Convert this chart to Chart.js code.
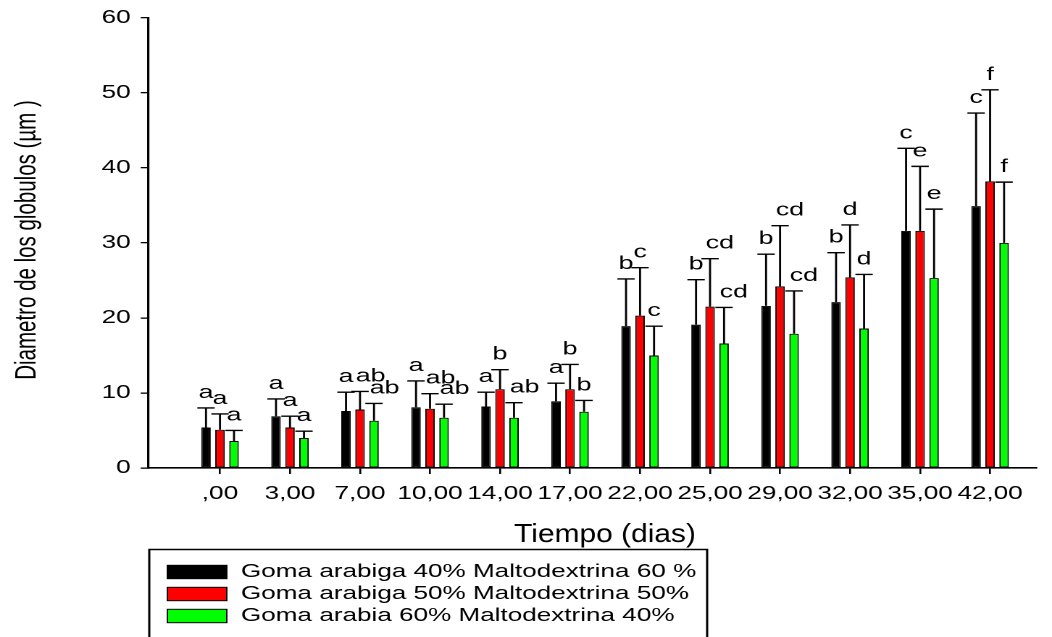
<!DOCTYPE html>
<html>
<head>
<meta charset="utf-8">
<script src="https://cdn.jsdelivr.net/npm/chart.js@4/dist/chart.umd.min.js"></script>
<style>
  html, body { margin: 0; padding: 0; background: #fff; overflow: hidden; }
  /* the original figure is stretched sideways, so draw narrow and widen it */
  #chart { display: block; transform: scaleX(1.44904); transform-origin: 0 0; }
</style>
</head>
<body>
<canvas id="chart" width="726" height="637"></canvas>
<script>
// Tiempo (dias)
const days = [',00', '3,00', '7,00', '10,00', '14,00', '17,00', '22,00', '25,00', '29,00', '32,00', '35,00', '42,00'];

const seriesNames = [
  'Goma arabiga 40% Maltodextrina 60 %',
  'Goma arabiga 50% Maltodextrina 50%',
  'Goma arabia 60% Maltodextrina 40%'
];

// mean diameter (µm)
const ga40 = [5.4, 6.9, 7.6, 8.1, 8.2, 8.9, 18.9, 19.1, 21.6, 22.1, 31.6, 34.9];
const ga50 = [5.1, 5.4, 7.8, 7.9, 10.5, 10.5, 20.3, 21.5, 24.2, 25.4, 31.6, 38.2];
const ga60 = [3.6, 4.0, 6.3, 6.7, 6.7, 7.5, 15.0, 16.6, 17.9, 18.6, 25.3, 30.0];

// standard deviation (upper error bar)
const ga40Sd = [2.6, 2.3, 2.5, 3.5, 1.9, 2.4, 6.3, 6.0, 6.9, 6.6, 11.0, 12.4];
const ga50Sd = [2.1, 1.5, 2.4, 2.0, 2.6, 3.3, 6.4, 6.4, 8.1, 7.0, 8.6, 12.2];
const ga60Sd = [1.4, 0.9, 2.3, 1.8, 2.0, 1.5, 3.9, 4.8, 5.7, 7.2, 9.2, 8.1];

// significance letters
const ga40Letters = ['a', 'a', 'a', 'a', 'a', 'a', 'b', 'b', 'b', 'b', 'c', 'c'];
const ga50Letters = ['a', 'a', 'ab', 'ab', 'b', 'b', 'c', 'cd', 'cd', 'd', 'e', 'f'];
const ga60Letters = ['a', 'a', 'ab', 'ab', 'ab', 'b', 'c', 'cd', 'cd', 'd', 'e', 'f'];

const colors = ['#000000', '#ff0000', '#00ff00'];
const FONT = "'Liberation Sans', Arial, sans-serif";

const makeSet = (i, values, sd, letters) => ({
  label: seriesNames[i],
  data: values.map((v, k) => ({ x: k, y: v })),
  sd: sd,
  letters: letters,
  backgroundColor: colors[i],
  borderColor: '#000',
  borderWidth: 1,
  borderSkipped: false,
  categoryPercentage: 0.6,
  barPercentage: 0.68
});

// error bars + letters above them
const errorBars = {
  id: 'errorBars',
  afterDatasetsDraw(chart) {
    const ctx = chart.ctx;
    const y = chart.scales.y;
    ctx.save();
    ctx.strokeStyle = '#000';
    ctx.fillStyle = '#000';
    ctx.lineWidth = 1.4;
    ctx.font = '18.5px ' + FONT;
    ctx.textBaseline = 'alphabetic';
    chart.data.datasets.forEach((ds, di) => {
      const meta = chart.getDatasetMeta(di);
      meta.data.forEach((bar, i) => {
        const top = y.getPixelForValue(ds.data[i].y + ds.sd[i]);
        ctx.beginPath();
        ctx.moveTo(bar.x, bar.y);
        ctx.lineTo(bar.x, top);
        ctx.moveTo(bar.x - 6, top);
        ctx.lineTo(bar.x + 6, top);
        ctx.stroke();
        const txt = ds.letters[i];
        if (txt.length > 1) {
          ctx.textAlign = 'left';
          ctx.fillText(txt, bar.x - 3, top - 10);
        } else {
          ctx.textAlign = 'center';
          ctx.fillText(txt, bar.x, top - 10);
        }
      });
    });
    ctx.restore();
  }
};

// axis titles and the boxed legend under the plot
const extras = {
  id: 'extras',
  afterDraw(chart) {
    const ctx = chart.ctx;
    ctx.save();
    ctx.fillStyle = '#000';

    ctx.save();
    ctx.translate(19, 240);
    ctx.rotate(-Math.PI / 2);
    ctx.font = '20.5px ' + FONT;
    ctx.textAlign = 'center';
    ctx.textBaseline = 'middle';
    ctx.fillText('Diametro de los globulos (µm )', 0, 0);
    ctx.restore();

    ctx.save();
    ctx.translate(417.5, 542);
    ctx.scale(0.794, 1);
    ctx.font = '26px ' + FONT;
    ctx.textAlign = 'center';
    ctx.textBaseline = 'alphabetic';
    ctx.fillText('Tiempo (dias)', 0, 0);
    ctx.restore();

    ctx.strokeStyle = '#000';
    ctx.lineWidth = 1.5;
    ctx.strokeRect(103, 549.5, 385, 120);

    const rowY = [572, 594, 616];
    ctx.font = '18px ' + FONT;
    ctx.textAlign = 'left';
    ctx.textBaseline = 'middle';
    seriesNames.forEach((name, i) => {
      ctx.fillStyle = colors[i];
      ctx.fillRect(115.5, rowY[i] - 6.7, 41, 13.4);
      ctx.lineWidth = 1;
      ctx.strokeRect(115.5, rowY[i] - 6.7, 41, 13.4);
      ctx.fillStyle = '#000';
      ctx.fillText(name, 166.3, rowY[i]);
    });
    ctx.restore();
  }
};

new Chart(document.getElementById('chart'), {
  type: 'bar',
  data: {
    datasets: [
      makeSet(0, ga40, ga40Sd, ga40Letters),
      makeSet(1, ga50, ga50Sd, ga50Letters),
      makeSet(2, ga60, ga60Sd, ga60Letters)
    ]
  },
  options: {
    responsive: false,
    devicePixelRatio: 2,
    animation: false,
    layout: { padding: { left: 0, right: 11, top: 14, bottom: 0 } },
    plugins: { legend: { display: false }, tooltip: { enabled: false } },
    scales: {
      x: {
        type: 'linear',
        min: -1.029,
        max: 11.657,
        offset: false,
        afterBuildTicks: s => { s.ticks = days.map((d, i) => ({ value: i })); },
        afterFit: s => { s.height = 169; },
        grid: { display: true, offset: false, drawOnChartArea: false, tickLength: 6, color: '#000', lineWidth: 1.3 },
        border: { display: true, color: '#000', width: 1.6 },
        ticks: {
          callback: v => days[v],
          autoSkip: false,
          maxRotation: 0,
          padding: 9,
          color: '#000',
          font: { size: 18, family: FONT }
        }
      },
      y: {
        min: 0,
        max: 60,
        afterFit: s => { s.width = 102.1; },
        grid: { display: true, drawOnChartArea: false, tickLength: 5, color: '#000', lineWidth: 1.3 },
        border: { display: true, color: '#000', width: 1.6 },
        ticks: {
          stepSize: 10,
          padding: 7,
          color: '#000',
          font: { size: 18, family: FONT }
        }
      }
    }
  },
  plugins: [errorBars, extras]
});
</script>
</body>
</html>
